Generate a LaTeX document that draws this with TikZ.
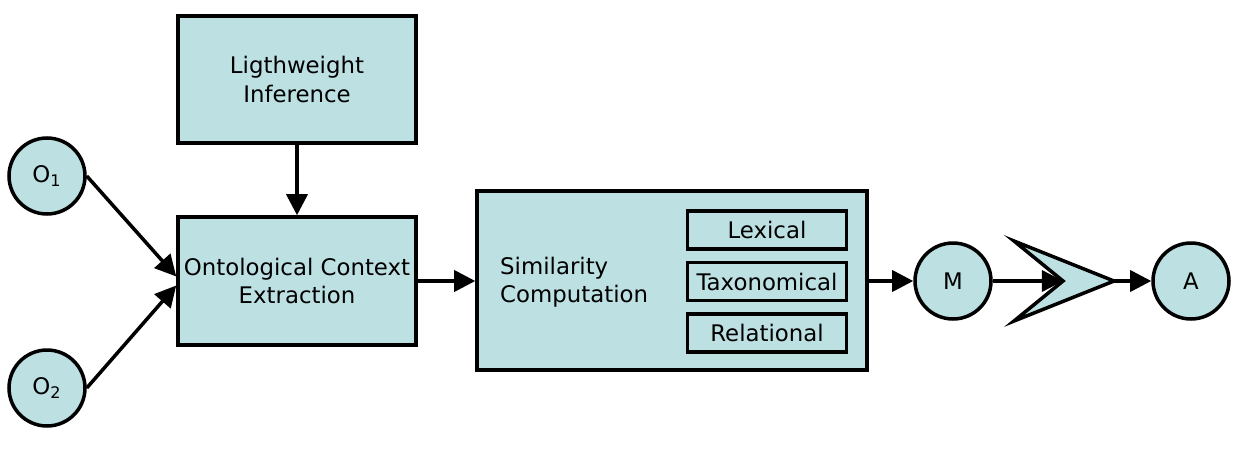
\documentclass[tikz,border=0pt]{standalone}
\usepackage{fontspec}
\setmainfont{DejaVu Sans}
\usetikzlibrary{positioning,arrows.meta}
\definecolor{boxfill}{HTML}{BDE0E2}

\begin{document}
\begin{tikzpicture}[x=0.02cm, y=-0.02cm,
	main/.style={rectangle, draw=black, fill=boxfill, line width=2pt, inner sep=0pt, text centered, align=center, font=\fontsize{13}{16}\selectfont},
	sub/.style={main, minimum width=3.18cm, minimum height=0.76cm},
	io/.style={circle, draw=black, fill=boxfill, line width=2pt, inner sep=0pt, minimum size=1.52cm, font=\fontsize{13}{16}\selectfont},
	flow/.style={-{Triangle[length=12pt,width=12pt]}, line width=2pt}
	]
	\useasboundingbox (0,0) rectangle (1244,463);
		\node (light) [main, minimum width=4.76cm, minimum height=2.54cm] at (297,79.5) {Ligthweight\\ Inference};
		\node (ont) [main, minimum width=4.76cm, minimum height=2.56cm] at (297,281) {Ontological Context\\ Extraction};
		\node (o1) [io] at (47,176) {O\textsubscript{1}};
		\node (o2) [io] at (47,388) {O\textsubscript{2}};
		\node (sim) [main, minimum width=7.8cm, minimum height=3.58cm] at (672,280.5) {};
			\node (simtext) [anchor=west, align=left, font=\fontsize{13}{16}\selectfont] at (494,282) {Similarity\\ Computation};
			\node (tax) [sub] at (767,281.5) {Taxonomical};
			\node (lex) [sub, above=0.2cm of tax] {Lexical};
			\node (rel) [sub, below=0.2cm of tax] {Relational};
		\node (m) [io] at (953,281) {M};
		\node (a) [io] at (1191,281) {A};

	% aggregation chevron
	\coordinate (notch) at (1063,281);
	\coordinate (tip) at (1114,281);
	\draw [fill=boxfill, line width=2pt, line join=miter] (1014,241) -- (tip) -- (1014,321) -- (notch) -- cycle;

	\draw [flow] (o1.east) -- ([yshift=0.09cm]ont.west);
	\draw [flow] (o2.east) -- ([yshift=-0.09cm]ont.west);
	\draw [flow] (light.south) -- (ont.north);
	\draw [flow] (ont.east) -- (ont.east -| sim.west);
	\draw [flow] (sim.east |- m.west) -- (m.west);
	\draw [flow] (m.east) -- (notch);
	\draw [flow] (tip) -- (a.west);

\end{tikzpicture}
\end{document}
